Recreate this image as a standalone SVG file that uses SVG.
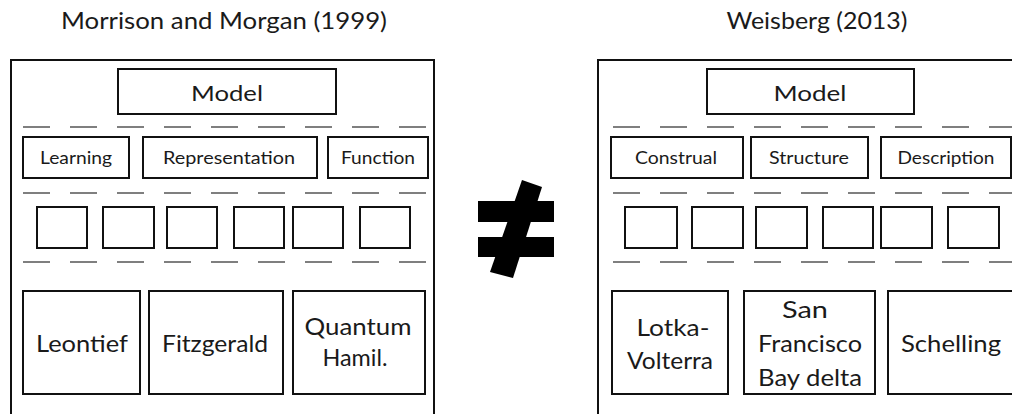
<svg xmlns="http://www.w3.org/2000/svg" width="1012" height="414" viewBox="0 0 1012 414">
<style>
.frame{fill:#fff;stroke:#111;stroke-width:2}
.box{fill:#fff;stroke:#111;stroke-width:2}
.dash{stroke:#555;stroke-width:1.5;stroke-dasharray:27 20;fill:none}
text{font-family:Lato,"Liberation Sans",sans-serif;fill:#1a1a1a;text-anchor:middle}
.title{font-size:23px}
.m{font-size:22px}
.s{font-size:18px}
.l{font-size:24px}
</style>
<rect width="1012" height="414" fill="#fff"/>
<text class="title" x="224" y="29" textLength="326" lengthAdjust="spacingAndGlyphs">Morrison and Morgan (1999)</text>
<text class="title" x="817" y="29" textLength="181" lengthAdjust="spacingAndGlyphs">Weisberg (2013)</text>
<rect class="frame" x="11" y="60" width="423" height="370"/>
<rect class="frame" x="598" y="60" width="430" height="370"/>
<g id="connectors">
<line class="dash" x1="23" y1="127" x2="430" y2="127"/>
<line class="dash" x1="23" y1="193" x2="430" y2="193"/>
<line class="dash" x1="23" y1="262" x2="430" y2="262"/>
<line class="dash" x1="613" y1="127" x2="1012" y2="127"/>
<line class="dash" x1="613" y1="193" x2="1012" y2="193"/>
<line class="dash" x1="613" y1="262" x2="1012" y2="262"/>
</g>
<g id="l-model"><rect class="box" x="118" y="69" width="218" height="45"/><text class="m" x="227" y="101" textLength="72" lengthAdjust="spacingAndGlyphs">Model</text></g>
<g id="l-learning"><rect class="box" x="23" y="137" width="106" height="41"/><text class="s" x="76" y="164" textLength="72" lengthAdjust="spacingAndGlyphs">Learning</text></g>
<g id="l-representation"><rect class="box" x="143" y="137" width="174" height="41"/><text class="s" x="229" y="164" textLength="132" lengthAdjust="spacingAndGlyphs">Representation</text></g>
<g id="l-function"><rect class="box" x="328" y="137" width="100" height="41"/><text class="s" x="378" y="164" textLength="74" lengthAdjust="spacingAndGlyphs">Function</text></g>
<g id="l-sq1"><rect class="box" x="37" y="207" width="50" height="41"/></g>
<g id="l-sq2"><rect class="box" x="103" y="207" width="51" height="41"/></g>
<g id="l-sq3"><rect class="box" x="167" y="207" width="50" height="41"/></g>
<g id="l-sq4"><rect class="box" x="234" y="207" width="50" height="41"/></g>
<g id="l-sq5"><rect class="box" x="293" y="207" width="50" height="41"/></g>
<g id="l-sq6"><rect class="box" x="360" y="207" width="50" height="41"/></g>
<g id="l-leontief"><rect class="box" x="23" y="291" width="117" height="103"/><text class="l" x="82" y="352" textLength="92" lengthAdjust="spacingAndGlyphs">Leontief</text></g>
<g id="l-fitzgerald"><rect class="box" x="149" y="291" width="134" height="103"/><text class="l" x="215" y="352" textLength="106" lengthAdjust="spacingAndGlyphs">Fitzgerald</text></g>
<g id="l-quantum"><rect class="box" x="293" y="291" width="132" height="103"/><text class="l" x="358" y="335" textLength="107" lengthAdjust="spacingAndGlyphs">Quantum</text><text class="l" x="355" y="366" textLength="65" lengthAdjust="spacingAndGlyphs">Hamil.</text></g>
<g id="neq">
<rect x="478" y="201" width="76" height="21" fill="#000"/>
<rect x="478" y="237" width="76" height="20" fill="#000"/>
<polygon points="522,180 542,187 513,278 490,272" fill="#000"/>
</g>
<g id="r-model"><rect class="box" x="707" y="69" width="207" height="45"/><text class="m" x="810" y="101" textLength="73" lengthAdjust="spacingAndGlyphs">Model</text></g>
<g id="r-construal"><rect class="box" x="611" y="137" width="132" height="41"/><text class="s" x="676" y="164" textLength="82" lengthAdjust="spacingAndGlyphs">Construal</text></g>
<g id="r-structure"><rect class="box" x="751" y="137" width="117" height="41"/><text class="s" x="809" y="164" textLength="80" lengthAdjust="spacingAndGlyphs">Structure</text></g>
<g id="r-description"><rect class="box" x="881" y="137" width="130" height="41"/><text class="s" x="946" y="164" textLength="97" lengthAdjust="spacingAndGlyphs">Description</text></g>
<g id="r-sq1"><rect class="box" x="625" y="207" width="52" height="41"/></g>
<g id="r-sq2"><rect class="box" x="692" y="207" width="51" height="41"/></g>
<g id="r-sq3"><rect class="box" x="756" y="207" width="51" height="41"/></g>
<g id="r-sq4"><rect class="box" x="823" y="207" width="50" height="41"/></g>
<g id="r-sq5"><rect class="box" x="881" y="207" width="51" height="41"/></g>
<g id="r-sq6"><rect class="box" x="948" y="207" width="51" height="41"/></g>
<g id="r-lotka"><rect class="box" x="612" y="291" width="116" height="103"/><text class="l" x="673" y="336" textLength="73" lengthAdjust="spacingAndGlyphs">Lotka-</text><text class="l" x="670" y="369" textLength="86" lengthAdjust="spacingAndGlyphs">Volterra</text></g>
<g id="r-sf"><rect class="box" x="744" y="291" width="131" height="103"/><text class="l" x="805" y="318" textLength="46" lengthAdjust="spacingAndGlyphs">San</text><text class="l" x="810" y="352" textLength="104" lengthAdjust="spacingAndGlyphs">Francisco</text><text class="l" x="810" y="386" textLength="104" lengthAdjust="spacingAndGlyphs">Bay delta</text></g>
<g id="r-schelling"><rect class="box" x="888" y="291" width="126" height="103"/><text class="l" x="951" y="352" textLength="100" lengthAdjust="spacingAndGlyphs">Schelling</text></g>
</svg>
